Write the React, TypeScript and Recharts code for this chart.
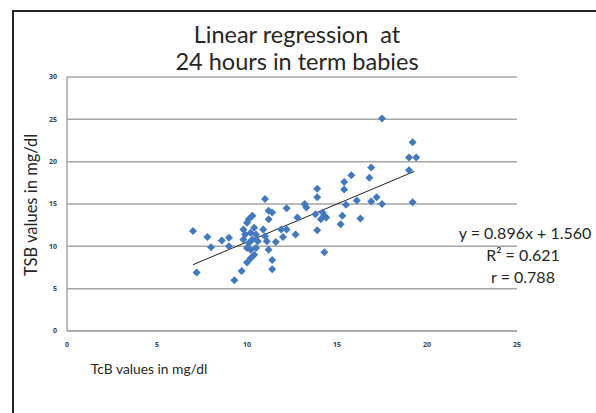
import React from 'react';
import { ScatterChart, Scatter, XAxis, YAxis, CartesianGrid, ReferenceLine } from 'recharts';

// TcB (x) readings, mg/dl
const tcbValues = [
  7.0, 7.2, 7.8, 8.0, 8.6, 9.0, 9.0, 9.3, 9.7, 10.0,
  10.2, 10.4, 10.0, 10.2, 10.5, 11.2, 11.4, 11.4, 9.8, 10.1,
  10.3, 10.6, 11.1, 11.6, 9.9, 10.2, 10.5, 11.0, 9.8, 10.4,
  10.9, 10.0, 10.1, 10.3, 11.0, 11.2, 11.4, 11.2, 11.9, 12.2,
  12.0, 12.7, 12.2, 12.8, 13.2, 13.3, 13.8, 14.2, 14.3, 14.1,
  14.4, 13.9, 13.9, 13.9, 14.3, 15.3, 15.2, 15.5, 15.4, 15.4,
  15.8, 16.1, 16.3, 16.8, 16.9, 16.9, 17.2, 17.5, 17.5, 19.0,
  19.0, 19.4, 19.2, 19.2,
];

// TSB (y) readings, mg/dl
const tsbValues = [
  11.8, 6.9, 11.1, 9.9, 10.7, 11.0, 10.0, 6.0, 7.1, 8.1,
  8.6, 9.0, 9.8, 9.6, 9.8, 9.6, 8.4, 7.3, 10.8, 10.4,
  10.8, 10.6, 10.6, 10.5, 11.4, 11.6, 11.4, 11.2, 12.0, 12.2,
  12.0, 12.8, 13.2, 13.6, 15.6, 14.2, 14.0, 13.2, 12.0, 12.0,
  11.1, 11.4, 14.5, 13.4, 15.0, 14.6, 13.8, 14.0, 13.6, 13.2,
  13.4, 16.8, 15.8, 11.9, 9.3, 13.6, 12.6, 14.9, 17.6, 16.7,
  18.4, 15.4, 13.3, 18.1, 19.3, 15.3, 15.8, 15.0, 25.1, 19.0,
  20.5, 20.5, 22.3, 15.2,
];

const xTicks = [0, 5, 10, 15, 20, 25];
const yTicks = [0, 5, 10, 15, 20, 25, 30];

// regression shown on the chart
const slope = 0.896;
const intercept = 1.56;
const trendRange = [7.0, 19.3];
const statLines = ['y = 0.896x + 1.560', 'R\u00b2 = 0.621', 'r = 0.788'];

const points = tcbValues.map((x, i) => ({ x, y: tsbValues[i] }));

const BLUE = '#4178be';
const FONT = 'Lato, "Open Sans", sans-serif';

const Diamond = (props: any) => {
  const { cx, cy } = props;
  const r = 4;
  return (
    <polygon
      points={`${cx},${cy - r} ${cx + r},${cy} ${cx},${cy + r} ${cx - r},${cy}`}
      fill={BLUE}
    />
  );
};

const tickStyle = { fontSize: 7, fill: '#404040', fontWeight: 700, fontFamily: '"Open Sans", sans-serif' };

export default function App() {
  return (
    <div style={{ position: 'absolute', left: 0, top: 0, width: 596, height: 413, background: '#fff', overflow: 'hidden' }}>
      <ScatterChart width={596} height={413} margin={{ top: 77, right: 79, bottom: 52, left: 0 }}>
        <CartesianGrid vertical={false} stroke="#a6a6a6" strokeWidth={1.5} />
        <XAxis
          type="number"
          dataKey="x"
          domain={[0, 25]}
          ticks={xTicks}
          height={30}
          tickLine={false}
          tickSize={4}
          tickMargin={7}
          axisLine={{ stroke: '#a6a6a6', strokeWidth: 1.5 }}
          tick={tickStyle}
        />
        <YAxis
          type="number"
          dataKey="y"
          domain={[0, 30]}
          ticks={yTicks}
          width={67}
          tickLine={false}
          tickSize={4}
          tickMargin={6}
          axisLine={{ stroke: '#a6a6a6', strokeWidth: 1.5 }}
          tick={tickStyle}
        />
        <Scatter data={points} shape={Diamond} isAnimationActive={false} />
        <ReferenceLine
          segment={[
            { x: trendRange[0], y: slope * trendRange[0] + intercept },
            { x: trendRange[1], y: slope * trendRange[1] + intercept },
          ]}
          stroke="#222"
          strokeWidth={1}
        />
      </ScatterChart>
      <svg width={596} height={413} style={{ position: 'absolute', left: 0, top: 0, pointerEvents: 'none' }}>
        <rect x={13} y={11} width={620} height={440} fill="none" stroke="#222" strokeWidth={2} />
        <text x={297} y={43} textAnchor="middle" fontSize={23.5} fill="#262626" fontFamily={FONT}>
          {'Linear regression\u00a0 at'}
        </text>
        <text x={297} y={70} textAnchor="middle" fontSize={23.5} fill="#262626" fontFamily={FONT}>
          24 hours in term babies
        </text>
        <text
          transform="translate(37,205) rotate(-90)"
          textAnchor="middle"
          fontSize={16.5}
          fill="#262626"
          fontFamily={FONT}
        >
          TSB values in mg/dl
        </text>
        <text x={149} y={374} textAnchor="middle" fontSize={13.8} fill="#262626" fontFamily={FONT}>
          TcB values in mg/dl
        </text>
        <text x={525} y={239} textAnchor="middle" fontSize={16} fill="#262626" fontFamily={FONT}>
          {statLines[0]}
        </text>
        <text x={523} y={261} textAnchor="middle" fontSize={16} fill="#262626" fontFamily={FONT}>
          {statLines[1]}
        </text>
        <text x={523} y={283} textAnchor="middle" fontSize={16} fill="#262626" fontFamily={FONT}>
          {statLines[2]}
        </text>
      </svg>
    </div>
  );
}
